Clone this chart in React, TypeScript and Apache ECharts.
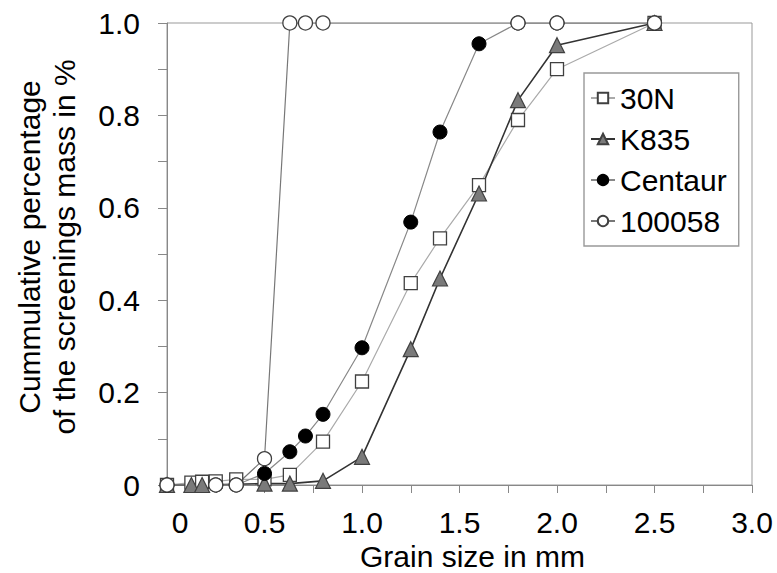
import React, { useEffect, useRef } from "react";
import * as echarts from "echarts";

const sizes = [0, 0.125, 0.18, 0.25, 0.355, 0.5, 0.63, 0.71, 0.8, 1.0, 1.25, 1.4, 1.6, 1.8, 2.0, 2.5];
const s30N = [0, 0.005, 0.007, 0.008, 0.012, 0.012, 0.022, null, 0.094, 0.224, 0.437, 0.534, 0.649, 0.79, 0.9, 1.0];
const sK835 = [0, 0, 0, null, null, 0.003, 0.003, null, 0.009, 0.061, 0.294, 0.447, 0.631, 0.833, 0.952, 1.0];
const sCentaur = [0, null, null, 0, 0, 0.025, 0.072, 0.106, 0.153, 0.297, 0.569, 0.764, 0.955, 1.0, 1.0, 1.0];
const s100058 = [0, null, null, 0, 0, 0.057, 1.0, 1.0, 1.0, null, null, null, null, 1.0, 1.0, 1.0];
const seriesNames = ["30N", "K835", "Centaur", "100058"];
const xTitle = "Grain size in mm";
const yTitleLines = ["Cummulative percentage", "of the screenings mass in %"];

const FONT = "'Liberation Sans', Arial, sans-serif";
const FS = 30;

function pairs(vals: (number | null)[]) {
  const out: [number, number][] = [];
  vals.forEach((v, i) => {
    if (v !== null) out.push([sizes[i], v]);
  });
  return out;
}

export default function App() {
  const ref = useRef<HTMLDivElement>(null);
  useEffect(() => {
    if (!ref.current) return;
    const chart = echarts.init(ref.current, undefined, { renderer: "svg" });
    const edge = "#404040";
    chart.setOption({
      animation: false,
      backgroundColor: "#fff",
      textStyle: { fontFamily: FONT },
      grid: {
        left: 167,
        right: 25,
        top: 23,
        bottom: 88,
        outerBoundsMode: "none",
        containLabel: false,
        show: true,
        borderColor: "#999",
        borderWidth: 1,
        backgroundColor: "transparent",
      },
      legend: {
        orient: "vertical",
        left: 584,
        top: 73,
        backgroundColor: "#fff",
        borderColor: "#999",
        borderWidth: 1.4,
        borderRadius: 0,
        padding: [10, 12, 10, 6],
        itemGap: 11,
        itemWidth: 24,
        itemHeight: 13,
        textStyle: { fontSize: FS, color: "#000", fontFamily: FONT },
        data: seriesNames,
      },
      xAxis: {
        type: "value",
        min: 0,
        max: 3,
        interval: 0.5,
        name: xTitle,
        nameLocation: "middle",
        nameGap: 55,
        nameTextStyle: { fontSize: FS, color: "#000", fontFamily: FONT, padding: [0, 0, 0, 26] },
        axisLine: { show: true, lineStyle: { color: "#888", width: 1 } },
        axisTick: { show: true, length: 8, lineStyle: { color: "#888" } },
        minorTick: { show: true, splitNumber: 2, length: 8, lineStyle: { color: "#888" } },
        splitLine: { show: false },
        axisLabel: {
          fontSize: FS,
          color: "#000",
          fontFamily: FONT,
          margin: 22,
          formatter: (v: number) => (v === 0 ? "{z|0}" : v.toFixed(1)),
          rich: { z: { fontSize: FS, color: "#000", fontFamily: FONT, padding: [0, 0, 0, 26] } },
        },
      },
      yAxis: {
        type: "value",
        min: 0,
        max: 1,
        interval: 0.2,
        axisLine: { show: true, lineStyle: { color: "#888", width: 1 } },
        axisTick: { show: true, length: 9, lineStyle: { color: "#888" } },
        minorTick: { show: true, splitNumber: 2, length: 9, lineStyle: { color: "#888" } },
        splitLine: { show: false },
        axisLabel: {
          fontSize: FS,
          color: "#000",
          fontFamily: FONT,
          margin: 27,
          formatter: (v: number) => (v === 0 ? "0" : v.toFixed(1)),
        },
      },
      graphic: [
        {
          type: "text",
          x: 47,
          y: 247,
          rotation: Math.PI / 2,
          style: {
            text: yTitleLines.join("\n"),
            fontSize: FS,
            lineHeight: 35,
            fill: "#000",
            fontFamily: FONT,
            align: "center",
            verticalAlign: "middle",
          },
        },
      ],
      series: [
        {
          name: "30N",
          type: "line",
          data: pairs(s30N),
          symbol: "rect",
          symbolSize: 13,
          lineStyle: { color: "#aaa", width: 1.2 },
          itemStyle: { color: "#fff", borderColor: edge, borderWidth: 1.3 },
        },
        {
          name: "K835",
          type: "line",
          data: pairs(sK835),
          symbol: "triangle",
          symbolSize: 15,
          lineStyle: { color: "#333", width: 1.6 },
          itemStyle: { color: "#7a7a7a", borderColor: edge, borderWidth: 1.2 },
        },
        {
          name: "Centaur",
          type: "line",
          data: pairs(sCentaur),
          symbol: "circle",
          symbolSize: 14,
          lineStyle: { color: "#888", width: 1.2 },
          itemStyle: { color: "#000", borderColor: "#000", borderWidth: 1 },
        },
        {
          name: "100058",
          type: "line",
          data: pairs(s100058),
          symbol: "circle",
          symbolSize: 14,
          lineStyle: { color: "#777", width: 1.2 },
          itemStyle: { color: "#fff", borderColor: edge, borderWidth: 1.3 },
        },
      ],
    });
    return () => chart.dispose();
  }, []);
  return (
    <div
      ref={ref}
      style={{ position: "fixed", left: 0, top: 0, width: 777, height: 573, background: "#fff" }}
    />
  );
}
